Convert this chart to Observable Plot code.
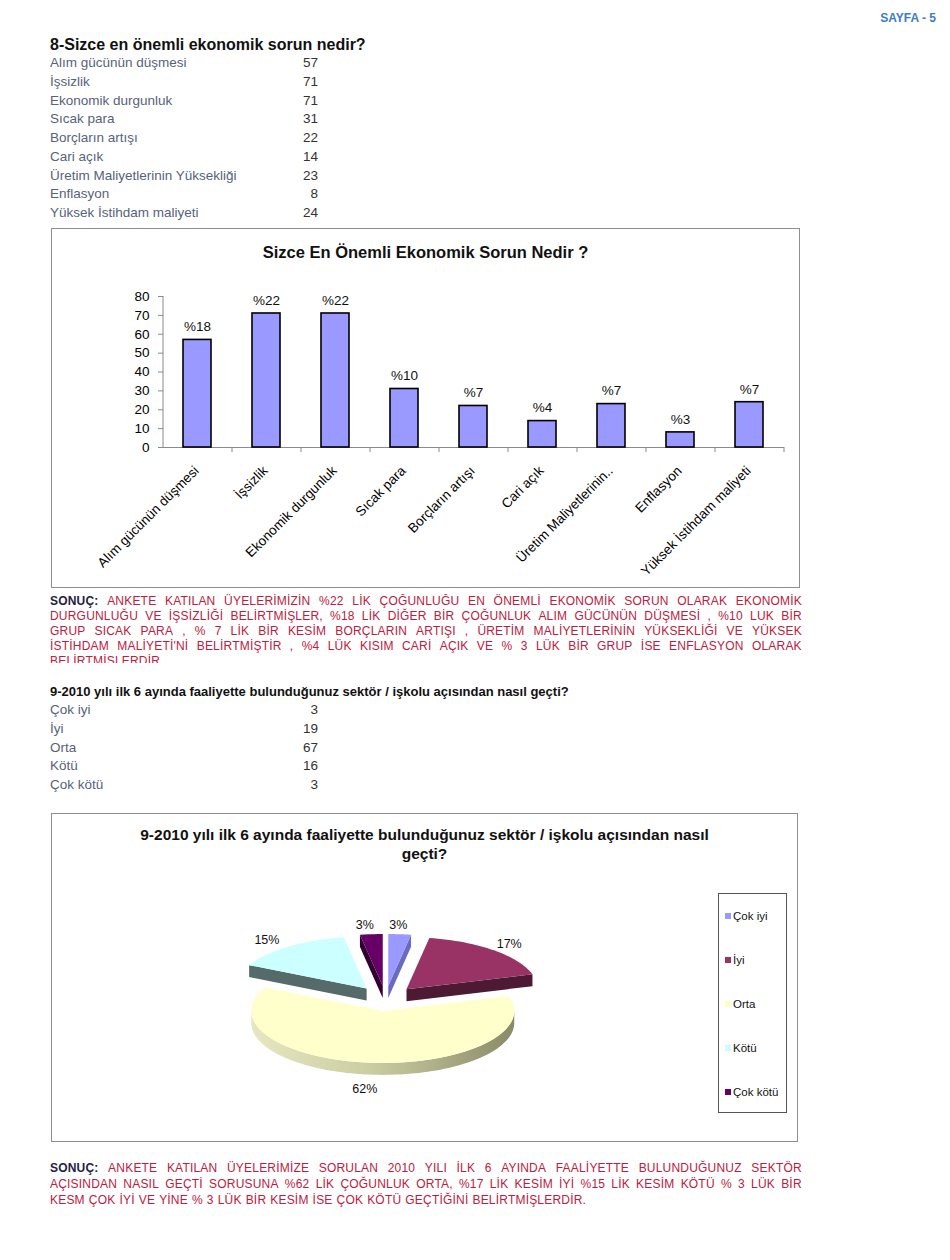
<!DOCTYPE html>
<html><head><meta charset="utf-8">
<script src="https://cdn.jsdelivr.net/npm/d3@7"></script>
<script src="https://cdn.jsdelivr.net/npm/@observablehq/plot@0.6"></script>
<style>
body{margin:0;background:#fff;font-family:Arial,"Liberation Sans",sans-serif;}
#page{position:relative;width:950px;height:1260px;overflow:hidden;background:#fff;}
.abs{position:absolute;}
.box{position:absolute;box-sizing:border-box;border:1px solid #8e8e8e;}
.lbl{color:#56637a;font-size:13.5px;line-height:18px;white-space:nowrap;}
.val{color:#333;font-size:13.5px;line-height:18px;text-align:right;width:60px;}
.concl{color:#bb2040;font-size:12px;letter-spacing:0.2px;}
.concl .ln{display:flex;white-space:nowrap;}
.concl .just{justify-content:space-between;}
.concl .left span{margin-right:4px;}
.concl b{color:#222244;}
</style></head><body><div id="page"></div>
<script>
// ---------- data ----------
const pageLabel = "SAYFA - 5";
const q1Title = "8-Sizce en önemli ekonomik sorun nedir?";
const problems = ["Alım gücünün düşmesi","İşsizlik","Ekonomik durgunluk","Sıcak para","Borçların artışı","Cari açık","Üretim Maliyetlerinin Yüksekliği","Enflasyon","Yüksek İstihdam maliyeti"];
const problemCounts = [57,71,71,31,22,14,23,8,24];
const problemAxisLabels = ["Alım gücünün düşmesi","İşsizlik","Ekonomik durgunluk","Sıcak para","Borçların artışı","Cari açık","Üretim Maliyetlerinin..","Enflasyon","Yüksek İstihdam maliyeti"];
const problemPctLabels = ["%18","%22","%22","%10","%7","%4","%7","%3","%7"];
const barTitle = "Sizce En Önemli Ekonomik Sorun Nedir ?";
const yTicks = [0,10,20,30,40,50,60,70,80];
const conclusion1Lines = [
 ["SONUÇ:","ANKETE KATILAN ÜYELERİMİZİN %22 LİK ÇOĞUNLUĞU EN ÖNEMLİ EKONOMİK SORUN OLARAK EKONOMİK"],
 ["","DURGUNLUĞU VE İŞSİZLİĞİ BELİRTMİŞLER, %18 LİK DİĞER BİR ÇOĞUNLUK ALIM GÜCÜNÜN DÜŞMESİ , %10 LUK BİR"],
 ["","GRUP SICAK PARA , % 7 LİK BİR KESİM BORÇLARIN ARTIŞI , ÜRETİM MALİYETLERİNİN YÜKSEKLİĞİ VE YÜKSEK"],
 ["","İSTİHDAM MALİYETİ'Nİ BELİRTMİŞTİR , %4 LÜK KISIM CARİ AÇIK VE % 3 LÜK BİR GRUP İSE ENFLASYON OLARAK"],
 ["","BELİRTMİŞLERDİR."]
];
const q2Title = "9-2010 yılı ilk 6 ayında faaliyette bulunduğunuz sektör / işkolu açısından nasıl geçti?";
const pieTitleLines = ["9-2010 yılı ilk 6 ayında faaliyette bulunduğunuz sektör / işkolu açısından nasıl","geçti?"];
const ratings = ["Çok iyi","İyi","Orta","Kötü","Çok kötü"];
const ratingCounts = [3,19,67,16,3];
const ratingPctLabels = ["3%","17%","62%","15%","3%"];
const ratingColors = ["#9999ff","#993366","#ffffcc","#ccffff","#660066"];
const ratingSideColors = ["#6a6ac0","#4c1a33","url(#ortaSide)","#566a6a","#300030"];
const conclusion2Lines = [
 ["SONUÇ:","ANKETE KATILAN ÜYELERİMİZE SORULAN 2010 YILI İLK 6 AYINDA FAALİYETTE BULUNDUĞUNUZ SEKTÖR"],
 ["","AÇISINDAN NASIL GEÇTİ SORUSUNA %62 LİK ÇOĞUNLUK ORTA, %17 LİK KESİM İYİ %15 LİK KESİM KÖTÜ % 3 LÜK BİR"],
 ["","KESM ÇOK İYİ VE YİNE % 3 LÜK BİR KESİM İSE ÇOK KÖTÜ GEÇTİĞİNİ BELİRTMİŞLERDİR."]
];

// ---------- layout helpers ----------
const page = document.getElementById("page");
function el(tag, cls, style, html){const e=document.createElement(tag); if(cls) e.className=cls; Object.assign(e.style, style||{}); if(html!=null) e.innerHTML=html; page.appendChild(e); return e;}
const esc = s => s.replace(/&/g,"&amp;").replace(/</g,"&lt;");

el("div","abs",{right:"14px",top:"11px",fontFamily:"'Liberation Sans Narrow','Arial Narrow',Arial,sans-serif",fontWeight:"bold",fontSize:"12px",color:"#3b7cc4"},pageLabel);

// question 1 heading and table
el("div","abs",{left:"50px",top:"36px",fontWeight:"bold",fontSize:"16px",lineHeight:"18px",color:"#111",whiteSpace:"nowrap"},esc(q1Title));
problems.forEach((p,i)=>{
  const top = 63 + i*18.75 - 9;
  el("div","abs lbl",{left:"50px",top:top+"px"},esc(p));
  el("div","abs val",{left:"258px",top:top+"px"},problemCounts[i]);
});

// bar chart box
el("div","box",{left:"51px",top:"228px",width:"749px",height:"360px"});
el("div","abs",{left:"51px",top:"242px",width:"749px",textAlign:"center",fontWeight:"bold",fontSize:"16.5px",lineHeight:"20px",color:"#111"},esc(barTitle));

const barData = problems.map((p,i)=>({k:p, v:problemCounts[i], pct:problemPctLabels[i], lab:problemAxisLabels[i]}));
const BW=749, BH=360, BML=112, BMR=16, BMT=68, BMB=141;
const halfStep = (BW-BML-BMR)/problems.length/2;
const barChart = Plot.plot({
  width: BW, height: BH, marginLeft: BML, marginRight: BMR, marginTop: BMT, marginBottom: BMB,
  style: {fontFamily:"Arial,'Liberation Sans',sans-serif", fontSize:"13px", background:"transparent", color:"#000", overflow:"visible"},
  x: {domain: problems, paddingInner: 0.59, paddingOuter: 0.295, label: null},
  y: {domain: [0,80], label: null},
  marks: [
    Plot.ruleX([problems[0]], {x: d=>d, dx: -halfStep, y1: 0, y2: 80, stroke: "#8a8a8a"}),
    Plot.ruleY([0], {stroke: "#8a8a8a"}),
    Plot.ruleX(problems, {x: d=>d, dx: halfStep, y1: 0, y2: 0, insetBottom: -5, stroke: "#8a8a8a"}),
    Plot.axisY({ticks: yTicks, tickSize: 5, tickPadding: 9, stroke: "#8a8a8a", fill: "#000", fontSize: 13.5, label: null}),
    Plot.axisX({tickSize: 0, tickPadding: 21, tickRotate: -45, dx: -1, fill: "#000", fontSize: 13.5, label: null,
      tickFormat: d => problemAxisLabels[problems.indexOf(d)]}),
    Plot.barY(barData, {x: "k", y: "v", fill: "#9999ff", stroke: "#000", strokeWidth: 1.6}),
    Plot.text(barData, {x: "k", y: "v", text: "pct", dy: -13, fontSize: 13.5, fill: "#111"})
  ]
});
Object.assign(barChart.style,{position:"absolute",left:"51px",top:"228px"});
page.appendChild(barChart);

// conclusions: each line a flex row of words, spread across the full width
function conclusion(lines, top, lh, height){
  const c = el("div","abs concl",{left:"50px",top:top+"px",width:"752px",lineHeight:lh+"px",height:height?height+"px":"auto",overflow:"hidden"});
  lines.forEach((l,i)=>{
    const d=document.createElement("div");
    const last = i===lines.length-1;
    d.className = "ln " + (last ? "left" : "just");
    const words = l[1].split(/\s+/).filter(Boolean);
    let html = "";
    if (l[0]) html += "<span><b>"+esc(l[0])+"</b></span>";
    html += words.map(w=>"<span>"+esc(w)+"</span>").join("");
    d.innerHTML = html;
    c.appendChild(d);
  });
}
conclusion(conclusion1Lines, 594, 15, 69);

// question 2 heading and table
el("div","abs",{left:"50px",top:"684px",fontWeight:"bold",fontSize:"13px",lineHeight:"16px",color:"#111",whiteSpace:"nowrap"},esc(q2Title));
ratings.forEach((r,i)=>{
  const top = 710 + i*18.75 - 9;
  el("div","abs lbl",{left:"50px",top:top+"px"},esc(r));
  el("div","abs val",{left:"258px",top:top+"px"},ratingCounts[i]);
});

// pie box
el("div","box",{left:"51px",top:"813px",width:"747px",height:"329px"});
el("div","abs",{left:"51px",top:"825px",width:"747px",textAlign:"center",fontWeight:"bold",fontSize:"15.5px",lineHeight:"19px",color:"#111"},pieTitleLines.map(esc).join("<br>"));

// pie geometry (angles from data)
const total = d3.sum(ratingCounts);
let acc = 0;
const slices = ratings.map((r,i)=>{const a0=acc/total*2*Math.PI; acc+=ratingCounts[i]; const a1=acc/total*2*Math.PI; return {r,i,a0,a1,m:(a0+a1)/2};});
const K = 0.24, T = 0.23;
const polys = [];
const drawOrder = [3,4,0,1,2];
function arcPts(a0,a1,o,dz){const n=Math.max(2,Math.ceil((a1-a0)/(Math.PI/90))); const pts=[]; for(let j=0;j<=n;j++){const a=a0+(a1-a0)*j/n; pts.push([o[0]+Math.sin(a), o[1]-Math.cos(a)+dz]);} return pts;}
drawOrder.forEach(i=>{
  const s = slices[i];
  const o = [K*Math.sin(s.m), -K*Math.cos(s.m)];
  const side = ratingSideColors[i], top = ratingColors[i];
  const push = (id, fill, pts) => pts.forEach(p=>polys.push({id, fill, x:p[0], y:p[1]}));
  if (-Math.sin(s.a0) > 0.001) {
    const p = [o[0]+Math.sin(s.a0), o[1]-Math.cos(s.a0)];
    push(s.r+"-s0", side, [o, p, [p[0],p[1]+T], [o[0],o[1]+T]]);
  }
  if (Math.sin(s.a1) > 0.001) {
    const p = [o[0]+Math.sin(s.a1), o[1]-Math.cos(s.a1)];
    push(s.r+"-s1", side, [o, p, [p[0],p[1]+T], [o[0],o[1]+T]]);
  }
  const ss = Math.max(s.a0, Math.PI/2), ee = Math.min(s.a1, 3*Math.PI/2);
  if (ee > ss) {
    push(s.r+"-arc", side, arcPts(ss,ee,o,0).concat(arcPts(ss,ee,o,T).reverse()));
  }
  push(s.r+"-top", top, [o].concat(arcPts(s.a0,s.a1,o,0)));
});
const labelR = 1.22 + K;
const pieLabels = slices.map(s=>({t: ratingPctLabels[s.i], x: labelR*Math.sin(s.m) - 0.03, y: -labelR*Math.cos(s.m) + (Math.cos(s.m)<0?T:0) + 0.05}));

const cx = 385-51, cy = 998-813, rx = 131.5, ry = 52;
const pie = Plot.plot({
  width: 747, height: 329, margin: 0,
  style: {fontFamily:"Arial,'Liberation Sans',sans-serif", fontSize:"12.5px", background:"transparent", color:"#000", overflow:"visible"},
  x: {domain: [-1,1], range: [cx-rx, cx+rx], axis: null},
  y: {domain: [-1,1], range: [cy-ry, cy+ry], axis: null},
  color: {type: "identity"},
  marks: [
    () => {
      const defs = d3.create("svg:defs");
      const g = defs.append("linearGradient").attr("id","ortaSide").attr("x1","0").attr("x2","1").attr("y1","0").attr("y2","0");
      g.append("stop").attr("offset","0%").attr("stop-color","#e6e6c0");
      g.append("stop").attr("offset","45%").attr("stop-color","#cdcda4");
      g.append("stop").attr("offset","100%").attr("stop-color","#8a8a68");
      return defs.node();
    },
    Plot.line(polys, {x: "x", y: "y", z: "id", fill: "fill", stroke: "none", curve: "linear-closed"}),
    Plot.text(pieLabels, {x: "x", y: "y", text: "t", fontSize: 12.5, fill: "#111"})
  ]
});
Object.assign(pie.style,{position:"absolute",left:"51px",top:"813px"});
page.appendChild(pie);

// legend
el("div","box",{left:"718px",top:"893px",width:"69px",height:"220px",borderColor:"#555"});
ratings.forEach((r,i)=>{
  const y = 916 + i*44;
  el("div","abs",{left:"725px",top:(y-3)+"px",width:"6px",height:"6px",background:ratingColors[i]});
  el("div","abs",{left:"733px",top:(y-7)+"px",fontSize:"11.5px",lineHeight:"14px",color:"#111",whiteSpace:"nowrap"},esc(r));
});

// conclusion 2
conclusion(conclusion2Lines, 1160, 16, null);
</script></body></html>
